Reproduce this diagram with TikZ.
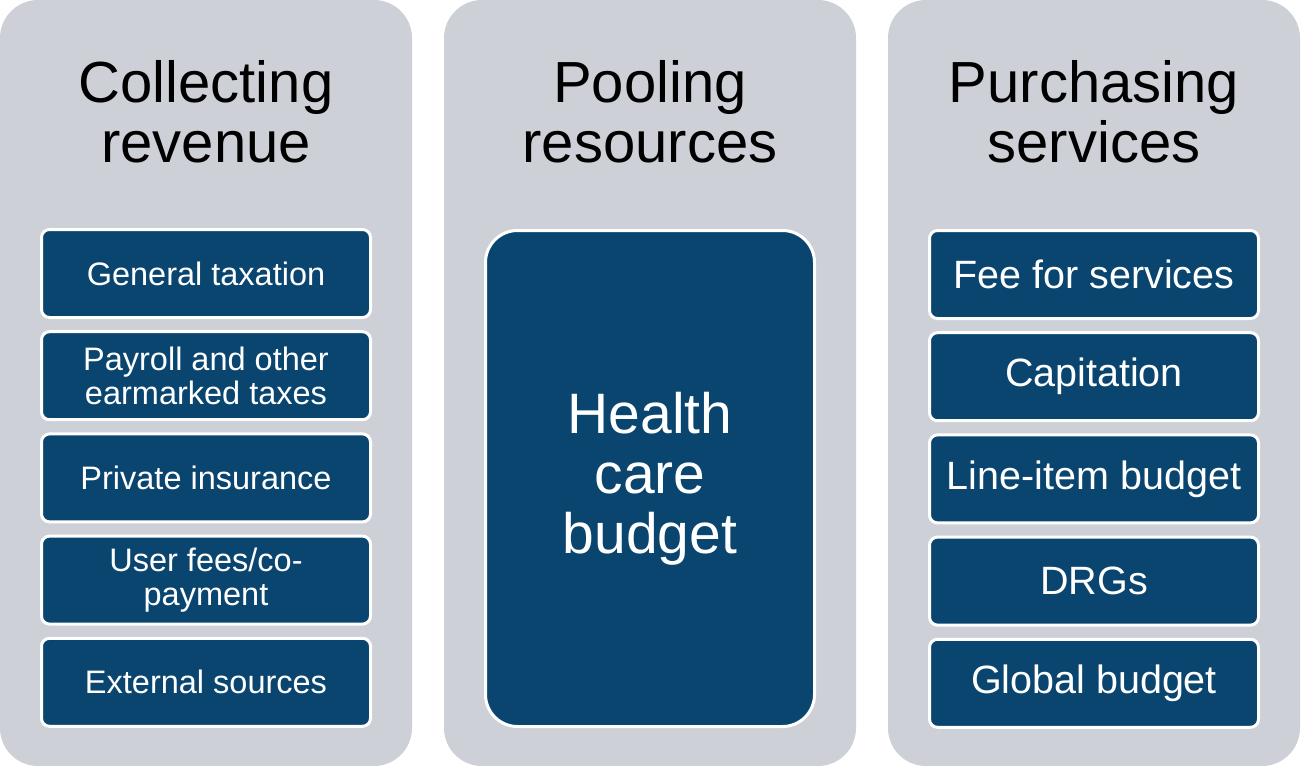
\documentclass[tikz,border=0pt]{standalone}
\usepackage{fontspec}
\setmainfont{Liberation Sans}
\definecolor{panelgrey}{RGB}{205,208,215}
\definecolor{budgetblue}{RGB}{10,69,112}
\begin{document}
\begin{tikzpicture}[x=1pt, y=-1pt,
  panel/.style={fill=panelgrey, rounded corners=38pt},
  title/.style={anchor=base, align=center, font=\fontsize{58}{60}\selectfont},
  item/.style={draw=white, line width=3pt, fill=budgetblue, text=white, rounded corners=8pt,
    minimum width=329pt, minimum height=88pt, align=center, inner sep=0pt}]
\useasboundingbox (0,0) rectangle (1302,766);

% the three columns
\fill[panel] (0,0) rectangle (412,766);
\fill[panel] (444,0) rectangle (856,766);
\fill[panel] (888,0) rectangle (1300,766);

% base of a two-line title is its last line
\node[title] (collect) at (206,162) {Collecting\\revenue};
\node[title] (pool) at (650,162) {Pooling\\resources};
\node[title] (purchase) at (1094,162) {Purchasing\\services};

\foreach \txt [count=\i] in {General taxation, {Payroll and other\\earmarked taxes}, Private insurance, {User fees/co-\\payment}, External sources}
{
    \node[item, font=\fontsize{32.5}{34}\selectfont] (rev\i) at (206,{171.3+102.2*\i}) {\txt};
}

\node[item, minimum height=496pt, rounded corners=32pt, font=\fontsize{57}{60}\selectfont] (budget) at (650,478.5) {Health\\care\\budget};

\foreach \txt [count=\i] in {Fee for services, Capitation, Line-item budget, DRGs, Global budget}
{
    \node[item, font=\fontsize{39.5}{42}\selectfont] (pay\i) at (1094,{172.3+102.2*\i}) {\txt};
}
\end{tikzpicture}
\end{document}
